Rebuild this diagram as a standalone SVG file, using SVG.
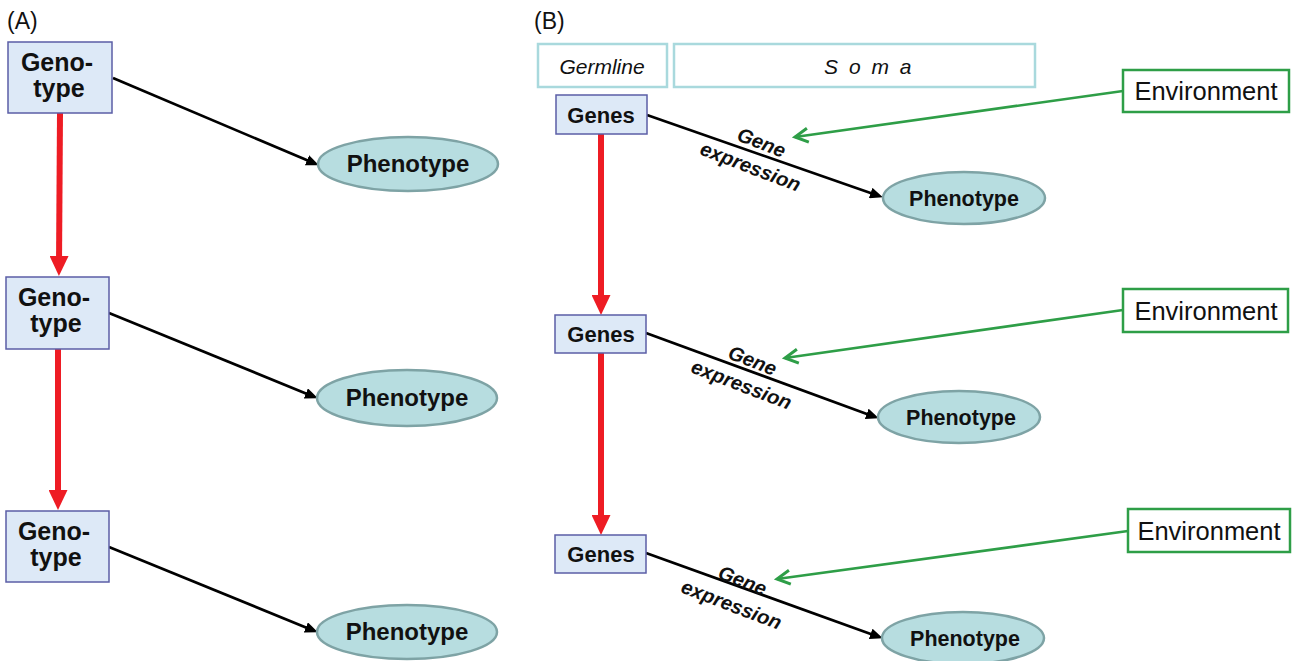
<svg xmlns="http://www.w3.org/2000/svg" width="1293" height="661" viewBox="0 0 1293 661">
<style>
text{font-family:"Liberation Sans",Arial,sans-serif;fill:#111}
.lbl{font-size:23px}
.gbox{fill:#dde9f7;stroke:#5b5ea6;stroke-width:1.5}
.ell{fill:#b7dde0;stroke:#7ea3a5;stroke-width:2.5}
.hdr{fill:#fff;stroke:#a9d9dd;stroke-width:2.5}
.env{fill:#fff;stroke:#2e9e47;stroke-width:2.5}
.bt{font-weight:bold;text-anchor:middle}
.geno{font-size:25px}
.phA{font-size:24px}
.phB{font-size:21.5px}
.genes{font-size:22px}
.envt{font-size:25.5px;text-anchor:middle}
.it{font-style:italic;font-size:21px;text-anchor:middle}
.ge{font-style:italic;font-weight:bold;font-size:20px;text-anchor:middle}
.red{stroke:#ee1c24;stroke-width:6;fill:none}
.blk{stroke:#000;stroke-width:2.7;fill:none}
.grn{stroke:#2e9e47;stroke-width:2.7;fill:none}
</style>
<defs>
<marker id="mr" markerUnits="userSpaceOnUse" markerWidth="20" markerHeight="19" refX="10" refY="9.5" orient="auto" viewBox="0 0 20 19"><path d="M0,0 L20,9.5 L0,19 z" fill="#ee1c24"/></marker>
<marker id="mb" markerUnits="userSpaceOnUse" markerWidth="13" markerHeight="11" refX="6" refY="5.5" orient="auto" viewBox="0 0 13 11"><path d="M0,0 L13,5.5 L0,11 z" fill="#000"/></marker>
<marker id="mg" markerUnits="userSpaceOnUse" markerWidth="20" markerHeight="20" refX="16" refY="10" orient="auto" viewBox="0 0 20 20"><path d="M3,3 L16,10 L3,17" fill="none" stroke="#2e9e47" stroke-width="3"/></marker>
</defs>

<text class="lbl" x="7" y="29">(A)</text>
<text class="lbl" x="534" y="29">(B)</text>

<g id="connectors">
<line class="red" x1="60" y1="113" x2="59" y2="266" marker-end="url(#mr)"/>
<line class="red" x1="58" y1="349" x2="58" y2="500" marker-end="url(#mr)"/>
<line class="blk" x1="113" y1="78" x2="312.5" y2="162.6" marker-end="url(#mb)"/>
<line class="blk" x1="109" y1="313" x2="311.4" y2="395.7" marker-end="url(#mb)"/>
<line class="blk" x1="109" y1="547" x2="311.4" y2="629.7" marker-end="url(#mb)"/>
<line class="red" x1="601" y1="134" x2="601" y2="305" marker-end="url(#mr)"/>
<line class="red" x1="601" y1="353" x2="601" y2="525" marker-end="url(#mr)"/>
<line class="blk" x1="647" y1="115" x2="876.3" y2="195" marker-end="url(#mb)"/>
<line class="blk" x1="646" y1="333" x2="872.3" y2="415.9" marker-end="url(#mb)"/>
<line class="blk" x1="646" y1="553" x2="876.3" y2="635.9" marker-end="url(#mb)"/>
<line class="grn" x1="1123" y1="91" x2="795" y2="137" marker-end="url(#mg)"/>
<line class="grn" x1="1123" y1="310" x2="785" y2="358" marker-end="url(#mg)"/>
<line class="grn" x1="1128" y1="531" x2="777" y2="579" marker-end="url(#mg)"/>
<g transform="translate(759,149) rotate(21)"><text class="ge" x="0" y="0">Gene</text></g>
<g transform="translate(748,173) rotate(21)"><text class="ge" x="0" y="0">expression</text></g>
<g transform="translate(750,367) rotate(21)"><text class="ge" x="0" y="0">Gene</text></g>
<g transform="translate(739,391) rotate(21)"><text class="ge" x="0" y="0">expression</text></g>
<g transform="translate(740,587) rotate(21)"><text class="ge" x="0" y="0">Gene</text></g>
<g transform="translate(729,611) rotate(21)"><text class="ge" x="0" y="0">expression</text></g>
</g>

<g id="genotype1"><rect class="gbox" x="8" y="42" width="104" height="71"/><text class="bt geno" x="57" y="71">Geno-</text><text class="bt geno" x="59" y="97">type</text></g>
<g id="genotype2"><rect class="gbox" x="6" y="277" width="103" height="72"/><text class="bt geno" x="54" y="306">Geno-</text><text class="bt geno" x="56" y="332">type</text></g>
<g id="genotype3"><rect class="gbox" x="6" y="511" width="103" height="71"/><text class="bt geno" x="54" y="540">Geno-</text><text class="bt geno" x="56" y="566">type</text></g>

<g id="phenoA1"><ellipse class="ell" cx="408" cy="164" rx="90" ry="27"/><text class="bt phA" x="408" y="172">Phenotype</text></g>
<g id="phenoA2"><ellipse class="ell" cx="407" cy="398" rx="90" ry="28"/><text class="bt phA" x="407" y="406">Phenotype</text></g>
<g id="phenoA3"><ellipse class="ell" cx="407" cy="632" rx="90" ry="27"/><text class="bt phA" x="407" y="640">Phenotype</text></g>

<g id="germline"><rect class="hdr" x="538" y="44" width="129" height="43"/><text class="it" x="602" y="74">Germline</text></g>
<g id="soma"><rect class="hdr" x="674" y="44" width="361" height="43"/><text class="it" x="869" y="74" letter-spacing="2.5">S o m a</text></g>

<g id="genes1"><rect class="gbox" x="556" y="95" width="91" height="39"/><text class="bt genes" x="601" y="123">Genes</text></g>
<g id="genes2"><rect class="gbox" x="555" y="315" width="91" height="38"/><text class="bt genes" x="601" y="342">Genes</text></g>
<g id="genes3"><rect class="gbox" x="555" y="535" width="91" height="38"/><text class="bt genes" x="601" y="562">Genes</text></g>

<g id="phenoB1"><ellipse class="ell" cx="964" cy="198" rx="81" ry="26"/><text class="bt phB" x="964" y="206">Phenotype</text></g>
<g id="phenoB2"><ellipse class="ell" cx="959" cy="417" rx="81" ry="26"/><text class="bt phB" x="961" y="425">Phenotype</text></g>
<g id="phenoB3"><ellipse class="ell" cx="963" cy="638" rx="81" ry="26"/><text class="bt phB" x="965" y="646">Phenotype</text></g>

<g id="env1"><rect class="env" x="1123" y="70" width="166" height="42"/><text class="envt" x="1206" y="100">Environment</text></g>
<g id="env2"><rect class="env" x="1123" y="289" width="165" height="43"/><text class="envt" x="1206" y="320">Environment</text></g>
<g id="env3"><rect class="env" x="1128" y="509" width="162" height="43"/><text class="envt" x="1209" y="540">Environment</text></g>
</svg>
